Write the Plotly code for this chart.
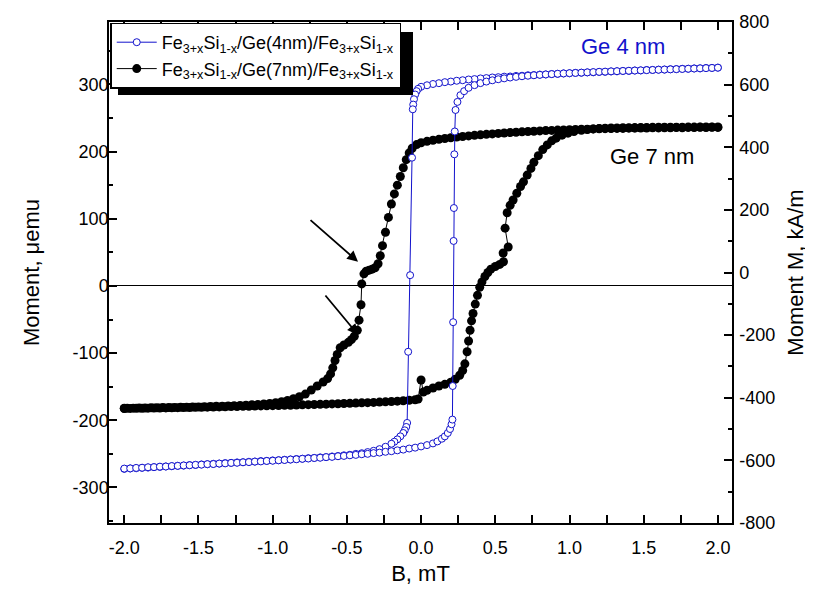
import plotly.graph_objects as go

# ---------------- data ----------------
# Ge 4 nm sample, descending field branch (+2 -> -2 mT)
b4_down = [2.00, 1.96, 1.92, 1.88, 1.84, 1.80, 1.76, 1.72, 1.68, 1.64, 1.60, 1.56, 1.52, 1.48, 1.44,
           1.40, 1.36, 1.32, 1.28, 1.24, 1.20, 1.16, 1.12, 1.08, 1.04, 1.00, 0.96, 0.92, 0.88, 0.84,
           0.80, 0.76, 0.72, 0.68, 0.64, 0.60, 0.56, 0.52, 0.48, 0.44, 0.40, 0.36, 0.32, 0.28, 0.24,
           0.20, 0.16, 0.12, 0.08, 0.04, 0.00, -0.02, -0.03, -0.04, -0.048, -0.053, -0.056, -0.061,
           -0.074, -0.087, -0.094, -0.10, -0.11, -0.12, -0.14, -0.16, -0.18, -0.20, -0.24, -0.28,
           -0.32, -0.36, -0.40, -0.44, -0.48, -0.52, -0.56, -0.60, -0.64, -0.68, -0.72, -0.76, -0.80,
           -0.84, -0.88, -0.92, -0.96, -1.00, -1.04, -1.08, -1.12, -1.16, -1.20, -1.24, -1.28, -1.32,
           -1.36, -1.40, -1.44, -1.48, -1.52, -1.56, -1.60, -1.64, -1.68, -1.72, -1.76, -1.80, -1.84,
           -1.88, -1.92, -1.96, -2.00]
m4_down = [325.0, 324.6, 324.5, 324.0, 323.9, 323.4, 323.3, 322.8, 322.7, 322.2, 322.1, 321.6, 321.5, 320.9, 320.8,
           320.2, 320.1, 319.5, 319.4, 318.8, 318.7, 318.1, 318.0, 317.4, 317.2, 316.6, 316.4, 315.8, 315.6, 314.9,
           314.7, 314.0, 313.7, 313.0, 312.7, 311.9, 311.6, 310.8, 310.4, 309.5, 309.0, 308.0, 307.4, 306.3, 305.5,
           304.3, 303.4, 301.9, 300.7, 298.8, 296.5, 293.5, 290.0, 285.0, 278.0, 270.0, 263.0, 191.0,
           16.0, -98.0, -204.0, -210.0, -215.0, -219.0, -224.0, -228.5, -232.0, -235.0, -239.5, -243.0,
           -245.5, -247.4, -249.1, -250.1, -251.4, -252.2, -253.3, -253.9, -254.8, -255.3, -256.1, -256.5, -257.3,
           -257.7, -258.4, -258.8, -259.5, -259.8, -260.5, -260.8, -261.5, -261.8, -262.5, -262.8, -263.5, -263.8,
           -264.5, -264.8, -265.5, -265.8, -266.5, -266.8, -267.5, -267.8, -268.5, -268.8, -269.5, -269.8, -270.5,
           -270.8, -271.5, -271.8, -272.4]

# Ge 4 nm sample, ascending field branch (-2 -> +2 mT)
b4_up = [-2.00, -1.96, -1.92, -1.88, -1.84, -1.80, -1.76, -1.72, -1.68, -1.64, -1.60, -1.56, -1.52, -1.48,
         -1.44, -1.40, -1.36, -1.32, -1.28, -1.24, -1.20, -1.16, -1.12, -1.08, -1.04, -1.00, -0.96, -0.92,
         -0.88, -0.84, -0.80, -0.76, -0.72, -0.68, -0.64, -0.60, -0.56, -0.52, -0.48, -0.44, -0.40, -0.36,
         -0.32, -0.28, -0.24, -0.20, -0.16, -0.12, -0.08, -0.04, 0.00, 0.04, 0.08, 0.11, 0.14, 0.16, 0.18,
         0.195, 0.205, 0.211, 0.213, 0.216, 0.219, 0.221, 0.224, 0.227, 0.232, 0.245, 0.265, 0.29, 0.32,
         0.36, 0.40, 0.44, 0.48, 0.52, 0.56, 0.60, 0.64, 0.68, 0.72, 0.76, 0.80, 0.84, 0.88, 0.92, 0.96,
         1.00, 1.04, 1.08, 1.12, 1.16, 1.20, 1.24, 1.28, 1.32, 1.36, 1.40, 1.44, 1.48, 1.52, 1.56, 1.60,
         1.64, 1.68, 1.72, 1.76, 1.80, 1.84, 1.88, 1.92, 1.96, 2.00]
m4_up = [-272.0, -271.7, -271.0, -270.7, -270.0, -269.8, -269.1, -268.9, -268.2, -267.9, -267.3, -267.0, -266.4, -266.1,
         -265.4, -265.2, -264.5, -264.2, -263.5, -263.3, -262.6, -262.3, -261.6, -261.3, -260.6, -260.3, -259.6, -259.2,
         -258.5, -258.1, -257.4, -257.0, -256.2, -255.8, -254.9, -254.5, -253.6, -253.1, -252.2, -251.6, -250.6, -250.0,
         -248.9, -248.2, -247.0, -246.1, -244.8, -243.7, -242.1, -240.8, -239.0, -237.0, -234.5, -231.5, -227.5, -224.0, -219.0,
         -213.0, -206.0, -199.0, -149.0, -54.0, 67.0, 116.0, 196.0, 230.0, 262.0, 274.0, 284.0, 290.0, 295.0,
         299.0, 302.0, 304.3, 306.2, 307.8, 309.1, 310.3, 311.3, 312.2, 313.0, 313.7, 314.3, 314.9, 315.4, 315.9, 316.4,
         316.8, 317.2, 317.6, 318.0, 318.4, 318.8, 319.1, 319.5, 319.8, 320.1, 320.4, 320.7, 321.0, 321.3, 321.6, 321.9,
         322.2, 322.5, 322.8, 323.1, 323.4, 323.7, 324.0, 324.3, 324.6, 325.0]

# Ge 7 nm sample, descending field branch (+2 -> -2 mT)
b7_down = [2.00, 1.96, 1.92, 1.88, 1.84, 1.80, 1.76, 1.72, 1.68, 1.64, 1.60, 1.56, 1.52, 1.48, 1.44,
           1.40, 1.36, 1.32, 1.28, 1.24, 1.20, 1.16, 1.12, 1.08, 1.04, 1.00, 0.96, 0.92, 0.88, 0.84,
           0.80, 0.76, 0.72, 0.68, 0.64, 0.60, 0.56, 0.52, 0.48, 0.44, 0.40, 0.36, 0.32, 0.28, 0.24,
           0.20, 0.16, 0.12, 0.08, 0.04, 0.00, -0.03, -0.06, -0.08, -0.10, -0.12, -0.14, -0.16, -0.18,
           -0.20, -0.22, -0.24, -0.26, -0.275, -0.29, -0.31, -0.33, -0.35, -0.37, -0.385, -0.40, -0.405,
           -0.418, -0.43, -0.45, -0.47, -0.49, -0.52, -0.545, -0.565, -0.58, -0.595, -0.61, -0.63, -0.66,
           -0.70, -0.74, -0.78, -0.82, -0.86, -0.90, -0.94, -0.98, -1.02, -1.06, -1.10, -1.14, -1.18, -1.22,
           -1.26, -1.30, -1.34, -1.38, -1.42, -1.46, -1.50, -1.54, -1.58, -1.62, -1.66, -1.70, -1.74, -1.78,
           -1.82, -1.86, -1.90, -1.94, -1.98, -2.00]
m7_down = [236.0, 236.2, 235.9, 236.1, 235.8, 236.0, 235.6, 235.8, 235.5, 235.6, 235.3, 235.4, 235.1, 235.2, 234.9,
           234.9, 234.6, 234.6, 234.3, 234.2, 233.9, 233.8, 233.4, 233.3, 232.9, 232.7, 232.3, 232.0, 231.6, 231.3,
           230.8, 230.4, 229.9, 229.4, 228.9, 228.3, 227.7, 227.1, 226.4, 225.7, 225.0, 224.2, 223.4, 222.5, 221.6,
           220.6, 219.5, 218.3, 216.9, 215.3, 213.2, 210.5, 205.0, 198.0, 188.0, 176.0, 163.0, 150.0, 137.0,
           122.0, 102.0, 80.0, 60.0, 45.0, 33.0, 27.0, 25.0, 23.5, 22.0, 18.0, 3.0, -28.0,
           -51.0, -66.0, -75.0, -80.0, -84.0, -88.0, -92.0, -102.0, -111.0, -122.0, -131.0, -138.0, -143.0,
           -149.0, -155.0, -161.0, -165.0, -168.0, -170.5, -172.5, -174.0, -175.0, -175.8, -176.5, -177.0, -177.5, -178.0,
           -178.3, -178.7, -179.0, -179.3, -179.6, -179.9, -180.1, -180.3, -180.5, -180.7, -180.9, -181.1, -181.2, -181.4,
           -181.5, -181.7, -181.8, -182.0, -182.1, -182.2]

# Ge 7 nm sample, ascending field branch (-2 -> +2 mT)
b7_up = [-2.00, -1.96, -1.92, -1.88, -1.84, -1.80, -1.76, -1.72, -1.68, -1.64, -1.60, -1.56, -1.52, -1.48,
         -1.44, -1.40, -1.36, -1.32, -1.28, -1.24, -1.20, -1.16, -1.12, -1.08, -1.04, -1.00, -0.96, -0.92,
         -0.88, -0.84, -0.80, -0.76, -0.72, -0.68, -0.64, -0.60, -0.56, -0.52, -0.48, -0.44, -0.40, -0.36,
         -0.32, -0.28, -0.24, -0.20, -0.16, -0.12, -0.08, -0.04, -0.02, 0.00, 0.015, 0.04, 0.08, 0.12, 0.16,
         0.20, 0.23, 0.26, 0.28, 0.295, 0.31, 0.32, 0.33, 0.34, 0.35, 0.365, 0.38, 0.395, 0.41, 0.43, 0.45,
         0.47, 0.50, 0.53, 0.555, 0.553, 0.587, 0.566, 0.58, 0.60, 0.62, 0.645, 0.67, 0.69, 0.715, 0.74,
         0.76, 0.79, 0.82, 0.85, 0.88, 0.91, 0.95, 0.99, 1.03, 1.08, 1.12, 1.16, 1.20, 1.24, 1.28, 1.32,
         1.36, 1.40, 1.44, 1.48, 1.52, 1.56, 1.60, 1.64, 1.68, 1.72, 1.76, 1.80, 1.84, 1.88, 1.92, 1.96, 2.00]
m7_up = [-182.5, -182.4, -182.3, -182.1, -182.0, -181.9, -181.7, -181.6, -181.4, -181.3, -181.1, -181.0, -180.8, -180.6,
         -180.5, -180.3, -180.1, -179.9, -179.7, -179.5, -179.3, -179.1, -178.9, -178.7, -178.5, -178.3, -178.0, -177.8,
         -177.6, -177.3, -177.1, -176.8, -176.6, -176.3, -176.0, -175.7, -175.4, -175.1, -174.8, -174.5, -174.1, -173.8,
         -173.4, -173.0, -172.6, -172.1, -171.6, -171.0, -170.3, -169.5, -168.5, -140.0, -158.0, -155.5, -152.0, -149.0, -146.5,
         -143.5, -139.0, -133.0, -126.0, -116.0, -98.0, -82.0, -66.0, -52.0, -41.0, -27.0, -14.0, -2.0, 6.0, 14.0, 20.0,
         25.0, 29.0, 32.0, 36.0, 49.0, 58.0, 86.0, 109.0, 120.0, 128.0, 138.0, 148.0, 155.0, 165.0, 175.0,
         184.0, 194.0, 203.0, 210.0, 216.0, 220.0, 224.5, 227.5, 229.8, 231.8, 233.0, 233.8, 234.4, 234.8, 235.1, 235.3,
         235.5, 235.7, 235.8, 235.9, 236.0, 236.1, 236.2, 236.2, 236.3, 236.4, 236.4, 236.5, 236.5, 236.6, 236.6, 236.7, 236.7]

# axes
x_range = [-2.103, 2.095]
y_left_range = [-353, 393]
y_right_range = [-800, 800]
x_tickvals = [-2.0, -1.5, -1.0, -0.5, 0.0, 0.5, 1.0, 1.5, 2.0]
x_ticklabels = ["-2.0", "-1.5", "-1.0", "-0.5", "0.0", "0.5", "1.0", "1.5", "2.0"]
yl_tickvals = [-300, -200, -100, 0, 100, 200, 300]
yl_ticklabels = ["-300", "-200", "-100", "0", "100", "200", "300"]
yr_tickvals = [-800, -600, -400, -200, 0, 200, 400, 600, 800]
yr_ticklabels = ["-800", "-600", "-400", "-200", "0", "200", "400", "600", "800"]

name_4nm = "Fe<sub>3+x</sub>Si<sub>1-x</sub>/Ge(4nm)/Fe<sub>3+x</sub>Si<sub>1-x</sub>"
name_7nm = "Fe<sub>3+x</sub>Si<sub>1-x</sub>/Ge(7nm)/Fe<sub>3+x</sub>Si<sub>1-x</sub>"

BLUE = "#1212CC"
FONT = "Liberation Sans, Arial, sans-serif"

fig = go.Figure()

fig.add_trace(go.Scatter(
    x=b7_down + b7_up, y=m7_down + m7_up, mode="lines+markers", name=name_7nm,
    line=dict(color="black", width=1),
    marker=dict(symbol="circle", size=9, color="black"),
    legendrank=2,
))
fig.add_trace(go.Scatter(
    x=b4_down + b4_up, y=m4_down + m4_up, mode="lines+markers", name=name_4nm,
    line=dict(color=BLUE, width=1),
    marker=dict(symbol="circle", size=7, color="white", line=dict(color=BLUE, width=1)),
    legendrank=1,
))
# empty trace so that the right-hand axis is drawn
fig.add_trace(go.Scatter(x=[], y=[], yaxis="y2", showlegend=False, hoverinfo="skip"))

axis_common = dict(
    showline=True, linecolor="black", linewidth=1.5,
    ticks="inside", ticklen=8, tickwidth=1.5, tickcolor="black",
    showgrid=False, automargin=False, tickmode="array",
    tickfont=dict(family=FONT, size=18, color="black"),
)

# the page body adds an 8 px offset, so the figure is 8 px smaller than the window
fig.update_layout(
    width=805, height=586,
    margin=dict(l=101, r=81, t=14, b=71, autoexpand=False),
    paper_bgcolor="white", plot_bgcolor="white",
    font=dict(family=FONT, color="black"),
    xaxis=dict(
        **axis_common, range=x_range, tickvals=x_tickvals, ticktext=x_ticklabels,
        mirror="allticks", zeroline=False, ticklabelstandoff=8,
        minor=dict(ticks="inside", tickmode="linear", tick0=0, dtick=0.25, ticklen=4,
                   tickwidth=1.5, tickcolor="black"),
        title=dict(text="B, mT", font=dict(family=FONT, size=22), standoff=8),
    ),
    yaxis=dict(
        **axis_common, range=y_left_range, tickvals=yl_tickvals, ticktext=yl_ticklabels,
        zeroline=True, zerolinecolor="black", zerolinewidth=1.2, ticklabelstandoff=-5,
        minor=dict(ticks="inside", tickmode="linear", tick0=0, dtick=50, ticklen=4,
                   tickwidth=1.5, tickcolor="black"),
        title=dict(text="Moment, μemu", font=dict(family=FONT, size=22), standoff=27),
    ),
    yaxis2=dict(
        **axis_common, range=y_right_range, tickvals=yr_tickvals, ticktext=yr_ticklabels,
        overlaying="y", side="right", zeroline=False, ticklabelstandoff=2,
        minor=dict(ticks="inside", tickmode="linear", tick0=0, dtick=100, ticklen=4,
                   tickwidth=1.5, tickcolor="black"),
        title=dict(text="Moment M, kA/m", font=dict(family=FONT, size=22), standoff=13),
    ),
    legend=dict(
        x=0.002, y=0.999, xanchor="left", yanchor="top",
        bgcolor="white", bordercolor="black", borderwidth=1.5,
        font=dict(family=FONT, size=18, color="black"),
        itemwidth=40, tracegroupgap=0,
    ),
    showlegend=True,
)

# legend shadow
fig.add_shape(type="rect", xref="paper", yref="paper",
              x0=(118 - 109) / 623, x1=(413 - 109) / 623,
              y0=(523 - 95) / 501, y1=(523 - 32) / 501,
              fillcolor="black", line=dict(width=0), layer="above")

# text labels
fig.add_annotation(x=1.36, y=356, text="Ge 4 nm", showarrow=False,
                   font=dict(family=FONT, size=22, color=BLUE))
fig.add_annotation(x=1.557, y=193, text="Ge 7 nm", showarrow=False,
                   font=dict(family=FONT, size=22, color="black"))

# arrows
fig.add_annotation(x=-0.425, y=36, ax=-49, ay=-43, text="", showarrow=True,
                   arrowhead=2, arrowsize=1.2, arrowwidth=1.8, arrowcolor="black", standoff=0)
fig.add_annotation(x=-0.424, y=-73, ax=-34, ay=-41, text="", showarrow=True,
                   arrowhead=2, arrowsize=1.2, arrowwidth=1.8, arrowcolor="black", standoff=0)

fig.write_html("out.html")
